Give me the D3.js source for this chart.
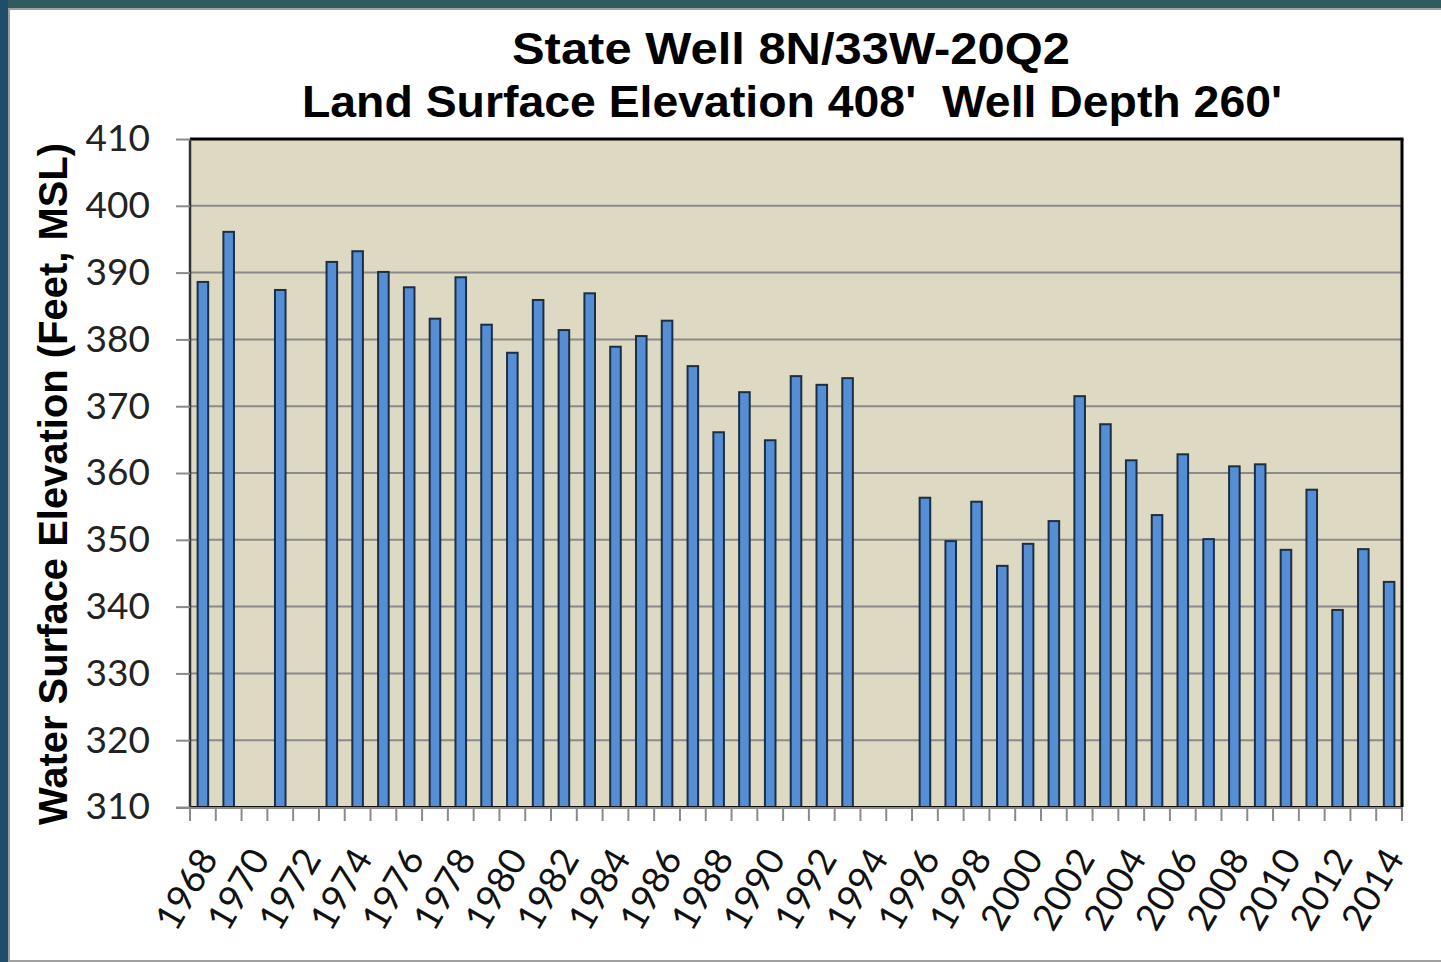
<!DOCTYPE html>
<html><head><meta charset="utf-8">
<script src="https://cdn.jsdelivr.net/npm/d3@7"></script>
<style>body{margin:0;background:#fff;} svg{display:block}</style>
</head><body><svg id="c" width="1441" height="962"></svg>
<script>
const years = [1968,1969,1970,1971,1972,1973,1974,1975,1976,1977,1978,1979,1980,1981,1982,1983,1984,1985,1986,1987,1988,1989,1990,1991,1992,1993,1994,1995,1996,1997,1998,1999,2000,2001,2002,2003,2004,2005,2006,2007,2008,2009,2010,2011,2012,2013,2014];
const elevations = [388.6,396.1,null,387.4,null,391.6,393.2,390.1,387.8,383.1,389.3,382.2,378.0,385.9,381.4,386.9,378.9,380.5,382.8,376.0,366.1,372.1,364.9,374.5,373.2,374.2,null,null,356.3,349.8,355.7,346.1,349.4,352.8,371.5,367.3,361.9,353.7,362.8,350.1,361.0,361.3,348.5,357.5,339.5,348.6,343.7];
const yTicks = [310,320,330,340,350,360,370,380,390,400,410];
const xTickLabels = [1968,1970,1972,1974,1976,1978,1980,1982,1984,1986,1988,1990,1992,1994,1996,1998,2000,2002,2004,2006,2008,2010,2012,2014];
const titleLines = ["State Well 8N/33W-20Q2", "Land Surface Elevation 408'  Well Depth 260'"];
const yTitle = "Water Surface Elevation (Feet, MSL)";

const svg = d3.select("#c");
const W = 1441, H = 962;
const L = 190, R = 1402, T = 139, B = 807;

// frame
svg.append("rect").attr("x",0).attr("y",0).attr("width",W).attr("height",H).attr("fill","#2F5B5E");
svg.append("rect").attr("x",0).attr("y",0).attr("width",8).attr("height",H).attr("fill","#1E4E6A");
svg.append("rect").attr("x",8).attr("y",8).attr("width",W-8).attr("height",H-8).attr("fill","#A0A0A0");
svg.append("rect").attr("x",10).attr("y",10).attr("width",W-10).attr("height",H-12).attr("fill","#FFFFFF");

const x = d3.scaleBand().domain(years).range([L, R]).paddingInner(0.59).paddingOuter(0.295);
const y = d3.scaleLinear().domain([310, 410]).range([B, T]);

// plot bg
svg.append("rect").attr("x",L).attr("y",T).attr("width",R-L).attr("height",B-T).attr("fill","#DDD9C3");

// gridlines
svg.append("g").selectAll("line").data(yTicks.filter(d=>d>310 && d<410)).join("line")
  .attr("x1",L).attr("x2",R).attr("y1",d=>y(d)).attr("y2",d=>y(d))
  .attr("stroke","#8A8A8A").attr("stroke-width",2);

// bars
const data = years.map((yr,i)=>({yr, v: elevations[i]})).filter(d=>d.v!==null);
svg.append("g").selectAll("rect").data(data).join("rect")
  .attr("x",d=>x(d.yr)).attr("width",x.bandwidth())
  .attr("y",d=>y(d.v)).attr("height",d=>B-y(d.v))
  .attr("fill","#558ED5").attr("stroke","#1C2E44").attr("stroke-width",2);

// plot border
svg.append("line").attr("x1",L).attr("x2",R+1.5).attr("y1",T).attr("y2",T).attr("stroke","#000").attr("stroke-width",3);
svg.append("line").attr("x1",R).attr("x2",R).attr("y1",T).attr("y2",B).attr("stroke","#000").attr("stroke-width",3);
svg.append("line").attr("x1",L).attr("x2",R).attr("y1",B).attr("y2",B).attr("stroke","#111").attr("stroke-width",2);
svg.append("line").attr("x1",L).attr("x2",L).attr("y1",T).attr("y2",B).attr("stroke","#333").attr("stroke-width",2.5);

// y axis
const yAxis = d3.axisLeft(y).tickValues(yTicks).tickSize(14).tickPadding(26).tickFormat(d3.format("d"));
const gy = svg.append("g").attr("transform",`translate(${L},0)`).call(yAxis);
gy.select(".domain").remove();
gy.selectAll(".tick line").attr("stroke","#8A8A8A").attr("stroke-width",2);
gy.selectAll(".tick text").attr("font-family","Lato, 'Open Sans', sans-serif").attr("font-size",37).attr("fill","#222");

// x axis ticks at band boundaries
const bounds = d3.range(years.length+1).map(i => L + i*(R-L)/years.length);
svg.append("g").selectAll("line").data(bounds).join("line")
  .attr("x1",d=>d).attr("x2",d=>d).attr("y1",B).attr("y2",B+14)
  .attr("stroke","#8A8A8A").attr("stroke-width",2);
svg.append("line").attr("x1",L-14).attr("x2",R).attr("y1",B+1).attr("y2",B+1).attr("stroke","#8A8A8A").attr("stroke-width",2);

svg.append("g").selectAll("text").data(xTickLabels).join("text")
  .attr("transform",d=>`translate(${x(d)+x.bandwidth()/2+5},${B+45}) rotate(-60)`)
  .attr("text-anchor","end").attr("dy","0.35em")
  .attr("font-family","Lato, 'Open Sans', sans-serif").attr("font-size",37).attr("fill","#111")
  .attr("textLength",86).attr("lengthAdjust","spacingAndGlyphs")
  .text(d=>d);

// titles
svg.append("text").attr("x",791).attr("y",64).attr("text-anchor","middle")
  .attr("font-family","'Liberation Sans', Arial, sans-serif").attr("font-weight","bold").attr("font-size",44)
  .attr("textLength",558).attr("lengthAdjust","spacingAndGlyphs").attr("fill","#000").text(titleLines[0]);
svg.append("text").attr("x",792).attr("y",117).attr("text-anchor","middle")
  .attr("font-family","'Liberation Sans', Arial, sans-serif").attr("font-weight","bold").attr("font-size",44)
  .attr("textLength",980).attr("lengthAdjust","spacingAndGlyphs").attr("fill","#000").style("white-space","pre").text(titleLines[1]);

svg.append("text").attr("transform","translate(67,484) rotate(-90)").attr("text-anchor","middle")
  .attr("font-family","'Liberation Sans', Arial, sans-serif").attr("font-weight","bold").attr("font-size",40)
  .attr("textLength",682).attr("lengthAdjust","spacingAndGlyphs").attr("fill","#000").text(yTitle);
</script>
</body></html>
